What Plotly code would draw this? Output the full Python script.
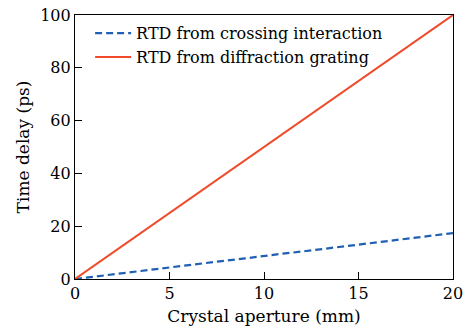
import plotly.graph_objects as go

aperture_mm = [0, 1, 2, 3, 4, 5, 6, 7, 8, 9, 10, 11, 12, 13, 14, 15, 16, 17, 18, 19, 20]
rtd_crossing = [0, 0.9, 1.7, 2.6, 3.4, 4.5, 5.2, 6.1, 7.0, 7.8, 8.8, 9.6, 10.4, 11.3, 12.2, 13.1, 13.9, 14.8, 15.7, 16.6, 17.4]
rtd_grating = [0, 5, 10, 15, 20, 25, 30, 35, 40, 45, 50, 55, 60, 65, 70, 75, 80, 85, 90, 95, 100]

x_ticks = [0, 5, 10, 15, 20]
y_ticks = [0, 20, 40, 60, 80, 100]

FONT = "DejaVu Serif"

fig = go.Figure()
fig.add_trace(go.Scatter(
    x=aperture_mm, y=rtd_crossing, mode="lines",
    name="RTD from crossing interaction",
    line=dict(color="#1f5fb4", width=2.2, dash="7px,4px"),
))
fig.add_trace(go.Scatter(
    x=aperture_mm, y=rtd_grating, mode="lines",
    name="RTD from diffraction grating",
    line=dict(color="#f04a2a", width=2),
))

axis_common = dict(
    showline=True, linecolor="black", linewidth=1.2, mirror=True,
    ticks="inside", ticklen=7, tickcolor="black", tickwidth=1.2,
    showgrid=False, zeroline=False, automargin=False,
    tickfont=dict(family=FONT, size=16, color="black"),
)

fig.update_layout(
    width=465, height=333,
    margin=dict(l=75, r=12, t=15, b=54),
    paper_bgcolor="white", plot_bgcolor="white",
    font=dict(family=FONT, size=16, color="black"),
    xaxis=dict(range=[0, 20], tickvals=x_ticks,
               title=dict(text="Crystal aperture (mm)", font=dict(family=FONT, size=17), standoff=7),
               **axis_common),
    yaxis=dict(range=[0, 100], tickvals=y_ticks,
               title=dict(text="Time delay (ps)", font=dict(family=FONT, size=17), standoff=6),
               **axis_common),
    legend=dict(x=0.04, y=0.995, xanchor="left", yanchor="top",
                bgcolor="rgba(0,0,0,0)", font=dict(family=FONT, size=16),
                tracegroupgap=0, itemwidth=36),
    showlegend=True,
)

fig.write_html("out.html", config={"displayModeBar": False},
               post_script="document.body.style.margin='0';document.body.style.overflow='hidden';")
